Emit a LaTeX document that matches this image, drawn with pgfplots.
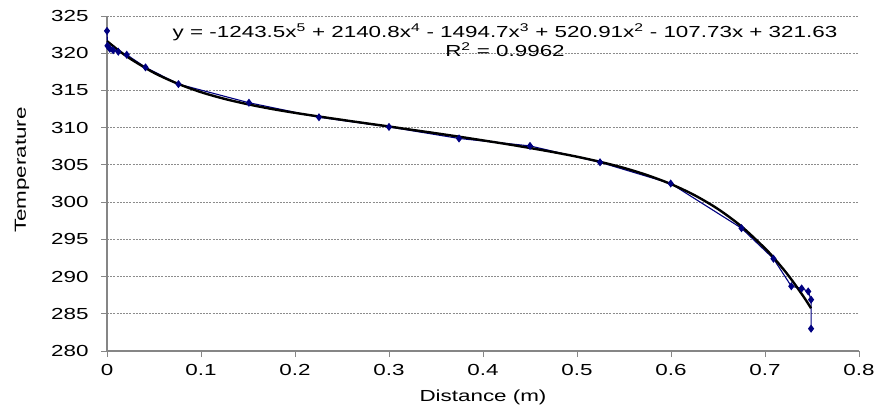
\documentclass[border=0pt]{standalone}
\usepackage{fontspec}
\setmainfont[FakeStretch=1.4]{Liberation Sans}
\usepackage{pgfplots}
\pgfplotsset{compat=1.18}

\definecolor{seriesnavy}{HTML}{000080}
\definecolor{axisgray}{HTML}{868686}
\definecolor{gridgray}{HTML}{8C8C8C}

\begin{document}
\fontsize{16}{19}\selectfont
\begin{tikzpicture}[x=1pt,y=1pt]
\path[use as bounding box] (0,0) rectangle (877,415);
\begin{axis}[
  at={(107pt,64pt)}, anchor=south west,
  scale only axis,
  width=752pt, height=335pt,
  xmin=0, xmax=0.8, ymin=280, ymax=325,
  xtick={0,0.1,...,0.8},
  ytick={280,285,...,325},
  xticklabels={0,0.1,0.2,0.3,0.4,0.5,0.6,0.7,0.8},
  axis x line*=bottom, axis y line*=left,
  axis line style={axisgray, line width=1.4pt},
  tick align=outside, major tick length=6pt,
  tick style={axisgray, line width=1pt},
  ymajorgrids,
  major grid style={gridgray, line width=0.9pt, dash pattern=on 2pt off 1.2pt},
  /pgf/number format/assume math mode=true,
  ticklabel style={font=\fontsize{16}{19}\selectfont},
  yticklabel style={/pgf/number format/fixed, xshift=-7pt},
  xticklabel style={yshift=-2pt},
  label style={font=\fontsize{16}{19}\selectfont},
  xlabel={Distance (m)},
  ylabel={Temperature},
  xlabel style={at={(axis description cs:0.5,-0.137)}, anchor=center},
  ylabel style={at={(axis description cs:-0.113,0.54)}, anchor=center},
  clip=false,
]
% measured temperatures
\addplot[color=seriesnavy, line width=1.1pt, mark=diamond*, mark size=3.2pt,
  mark options={fill=seriesnavy, draw=seriesnavy}] coordinates {
  (0,323.0) (0.0005,321.0) (0.003,320.6) (0.0065,320.4) (0.012,320.2)
  (0.021,319.8) (0.041,318.1) (0.076,315.85) (0.151,313.35) (0.2255,311.4)
  (0.300,310.1) (0.3745,308.55) (0.45,307.55) (0.5245,305.35) (0.5997,302.5)
  (0.675,296.5) (0.709,292.4) (0.728,288.7) (0.739,288.4) (0.746,288.0)
  (0.749,286.9) (0.749,283.0)
};
% fifth-order polynomial trendline
\addplot[black, line width=2.4pt, smooth, no marks] coordinates {
  (0,321.63) (0.0125,320.36) (0.025,319.24) (0.05,317.37) (0.075,315.92)
  (0.1,314.77) (0.125,313.87) (0.15,313.14) (0.175,312.52) (0.2,311.99)
  (0.225,311.51) (0.25,311.05) (0.275,310.60) (0.3,310.16) (0.325,309.70)
  (0.35,309.25) (0.375,308.78) (0.4,308.29) (0.425,307.80) (0.45,307.27)
  (0.475,306.71) (0.5,306.10) (0.525,305.40) (0.55,304.59) (0.575,303.61)
  (0.6,302.42) (0.625,300.93) (0.65,299.07) (0.675,296.73) (0.7,293.79)
  (0.71,292.42) (0.72,290.92) (0.725,290.12) (0.73,289.28) (0.74,287.49)
  (0.745,286.54) (0.749,285.74)
};
\end{axis}
\node[anchor=center, inner sep=0pt] at (505,383)
  {y = -1243.5x\textsuperscript{5} + 2140.8x\textsuperscript{4} - 1494.7x\textsuperscript{3} + 520.91x\textsuperscript{2} - 107.73x + 321.63};
\node[anchor=center, inner sep=0pt] at (505,365) {R\textsuperscript{2} = 0.9962};
\end{tikzpicture}
\end{document}
